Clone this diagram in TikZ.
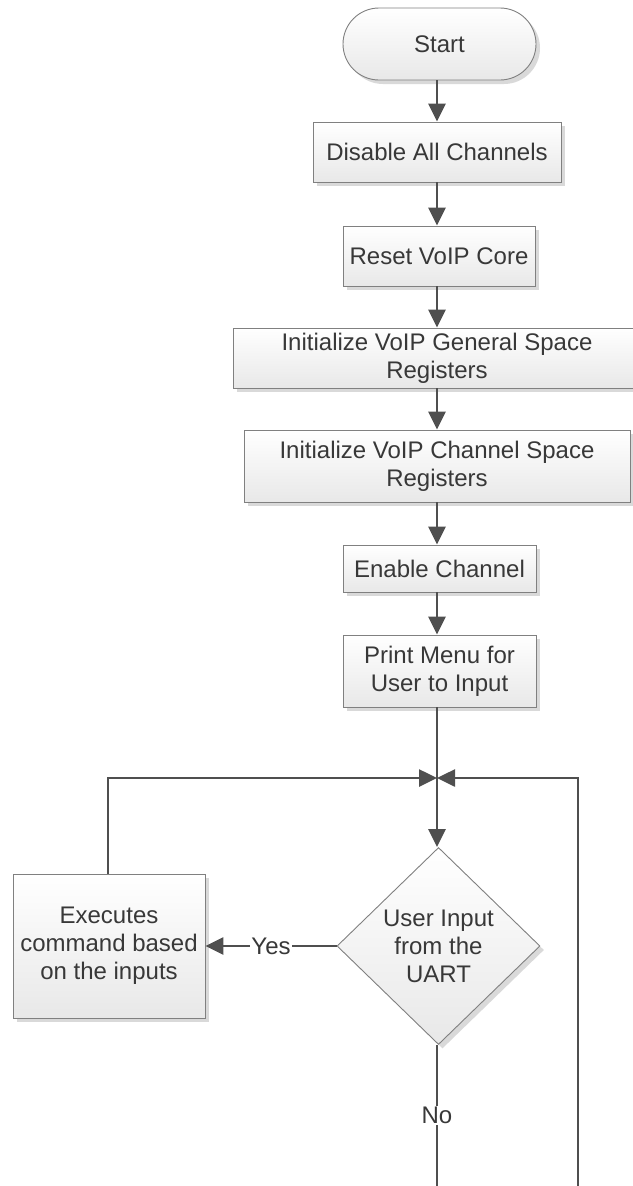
\documentclass[tikz,border=0pt]{standalone}
\usepackage{fontspec}
\setmainfont{Liberation Sans}
\usetikzlibrary{arrows.meta,shapes.geometric,shadows}
\definecolor{lnc}{HTML}{4F4F4F}
\definecolor{txc}{HTML}{383838}
\definecolor{bdc}{HTML}{808080}
\tikzset{
  box/.style={draw=bdc, line width=0.9pt, top color=white, bottom color=black!9,
    text=txc, font=\fontsize{24}{28}\selectfont, align=center, inner sep=0pt,
    drop shadow={shadow xshift=4pt, shadow yshift=-4pt, fill=black!15, opacity=1}},
  flow/.style={draw=lnc, line width=2.6pt, -{Triangle[width=17pt,length=18pt]}},
  plain/.style={draw=lnc, line width=2.6pt},
  lab/.style={fill=white, text=txc, font=\fontsize{24}{28}\selectfont, inner sep=1pt}
}
\begin{document}
\begin{tikzpicture}[x=1pt,y=-1pt]
\useasboundingbox (0,0) rectangle (632,1186);
\node[box, rounded corners=36pt, minimum width=193pt, minimum height=72pt] (start) at (439.5,44) {Start};
\node[box, minimum width=248pt, minimum height=60pt] (dis) at (437,152) {Disable All Channels};
\node[box, minimum width=192pt, minimum height=60pt] (reset) at (439,256) {Reset VoIP Core};
\node[box, minimum width=408pt, minimum height=60pt] (gen) at (437,358) {Initialize VoIP General Space\\Registers};
\node[box, minimum width=386pt, minimum height=72pt] (chan) at (437,466) {Initialize VoIP Channel Space\\Registers};
\node[box, minimum width=193pt, minimum height=47pt] (en) at (439.5,568.5) {Enable Channel};
\node[box, minimum width=193pt, minimum height=72pt] (pm) at (439.5,671) {Print Menu for\\User to Input};
\node[box, shape=diamond, minimum width=203pt, minimum height=197pt] (dec) at (438.5,946) {User Input\\from the\\UART};
\node[box, minimum width=192pt, minimum height=144pt] (exe) at (109,946) {Executes\\command based\\on the inputs};
\coordinate (j) at (437,778);
\coordinate (nob) at (437,1186);
\coordinate (rb) at (578,1186);
\coordinate (rt) at (578,778);
\coordinate (lt) at (108,778);

\draw[flow] (start.south -| dis.north) -- (dis.north);
\draw[flow] (dis.south) -- (reset.north -| dis.south);
\draw[flow] (reset.south -| j) -- (gen.north);
\draw[flow] (gen.south) -- (chan.north);
\draw[flow] (chan.south) -- (en.north -| chan.south);
\draw[flow] (en.south -| j) -- (pm.north -| j);
\draw[flow] (pm.south -| j) -- (dec.north -| j);
\draw[flow] (exe.north -| lt) -- (lt) -- (j);
\draw[flow] (rb) -- (rt) -- (j);
\draw[flow] (dec.west) -- node[lab, pos=0.5] (yes) {Yes} (exe.east);
\draw[plain] (dec.south -| j) -- node[lab, pos=0.5] (no) {No} (nob);
\end{tikzpicture}
\end{document}
